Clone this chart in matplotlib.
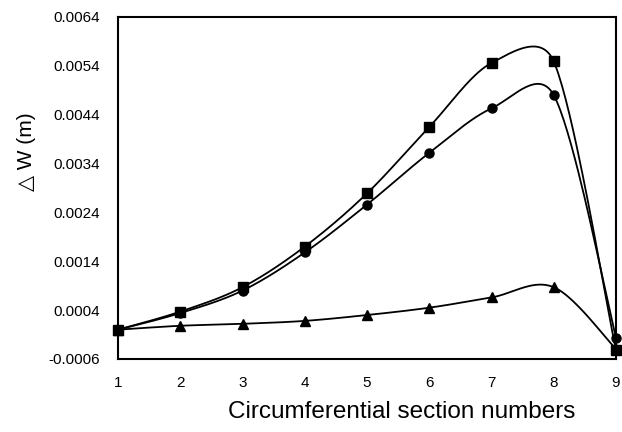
import numpy as np
import matplotlib
matplotlib.use("Agg")
import matplotlib.pyplot as plt

plt.rcParams['font.family'] = ['Liberation Sans', 'DejaVu Sans']

# data
sections = [1, 2, 3, 4, 5, 6, 7, 8, 9]
dw_square = [0.0, 0.00037, 0.00087, 0.0017, 0.00279, 0.00415, 0.00546, 0.00549, -0.00042]
dw_circle = [0.0, 0.00034, 0.0008, 0.00158, 0.00256, 0.00362, 0.00453, 0.0048, -0.00016]
dw_triangle = [0.0, 0.00008, 0.00012, 0.00018, 0.0003, 0.00045, 0.00066, 0.00087, -0.0004]
yticks = [-0.0006, 0.0004, 0.0014, 0.0024, 0.0034, 0.0044, 0.0054, 0.0064]
ytick_labels = ["-0.0006", "0.0004", "0.0014", "0.0024", "0.0034", "0.0044", "0.0054", "0.0064"]


def excel_smooth(ax, xs, ys, n=40):
    # spreadsheet style bezier smoothing, done in pixel space
    pts = ax.transData.transform(np.column_stack([xs, ys]))
    out = []
    for i in range(len(pts) - 1):
        p0 = pts[i - 1] if i > 0 else pts[i]
        p1 = pts[i]
        p2 = pts[i + 1]
        p3 = pts[i + 2] if i + 2 < len(pts) else pts[i + 1]
        seg = np.hypot(*(p2 - p1))
        d1 = (p2 - p0) / 6.0
        d2 = (p3 - p1) / 6.0
        if np.hypot(*d1) > seg / 2:
            d1 = d1 * (seg / 2) / np.hypot(*d1)
        if np.hypot(*d2) > seg / 2:
            d2 = d2 * (seg / 2) / np.hypot(*d2)
        c1 = p1 + d1
        c2 = p2 - d2
        t = np.linspace(0, 1, n)[:, None]
        b = ((1 - t) ** 3) * p1 + 3 * ((1 - t) ** 2) * t * c1 + 3 * (1 - t) * t ** 2 * c2 + t ** 3 * p2
        out.append(b if i == 0 else b[1:])
    out = np.vstack(out)
    data = ax.transData.inverted().transform(out)
    return data[:, 0], data[:, 1]


fig = plt.figure(figsize=(6.22, 4.32), dpi=100)
ax = fig.add_axes([118 / 622, 1 - 359 / 432, 498 / 622, 342 / 432])
ax.set_xlim(1, 9)
ax.set_ylim(-0.0006, 0.0064)

for vals, mk, ms in [(dw_triangle, '^', 7), (dw_circle, 'o', 6.5), (dw_square, 's', 7.2)]:
    sx, sy = excel_smooth(ax, sections, vals)
    ax.plot(sx, sy, color='black', lw=1.3, clip_on=False)
    ax.plot(sections, vals, linestyle='none', marker=mk, markersize=ms,
            color='black', clip_on=False, zorder=3)

ax.set_xticks(sections)
ax.set_xticklabels([str(s) for s in sections])
ax.set_yticks(yticks)
ax.set_yticklabels(ytick_labels)
ax.tick_params(axis='both', length=0, labelsize=11)
ax.tick_params(axis='y', pad=13)
ax.tick_params(axis='x', pad=12)
for sp in ax.spines.values():
    sp.set_linewidth(1.5)
    sp.set_color('black')

fig.text(27 / 622, 1 - 152 / 432, "\u25b3 W (m)", rotation=90, ha='center', va='center', fontsize=15)
fig.text(402 / 622, 1 - 412 / 432, "Circumferential section numbers", ha='center', va='center', fontsize=17.5)

fig.savefig("out.png", dpi=100)
